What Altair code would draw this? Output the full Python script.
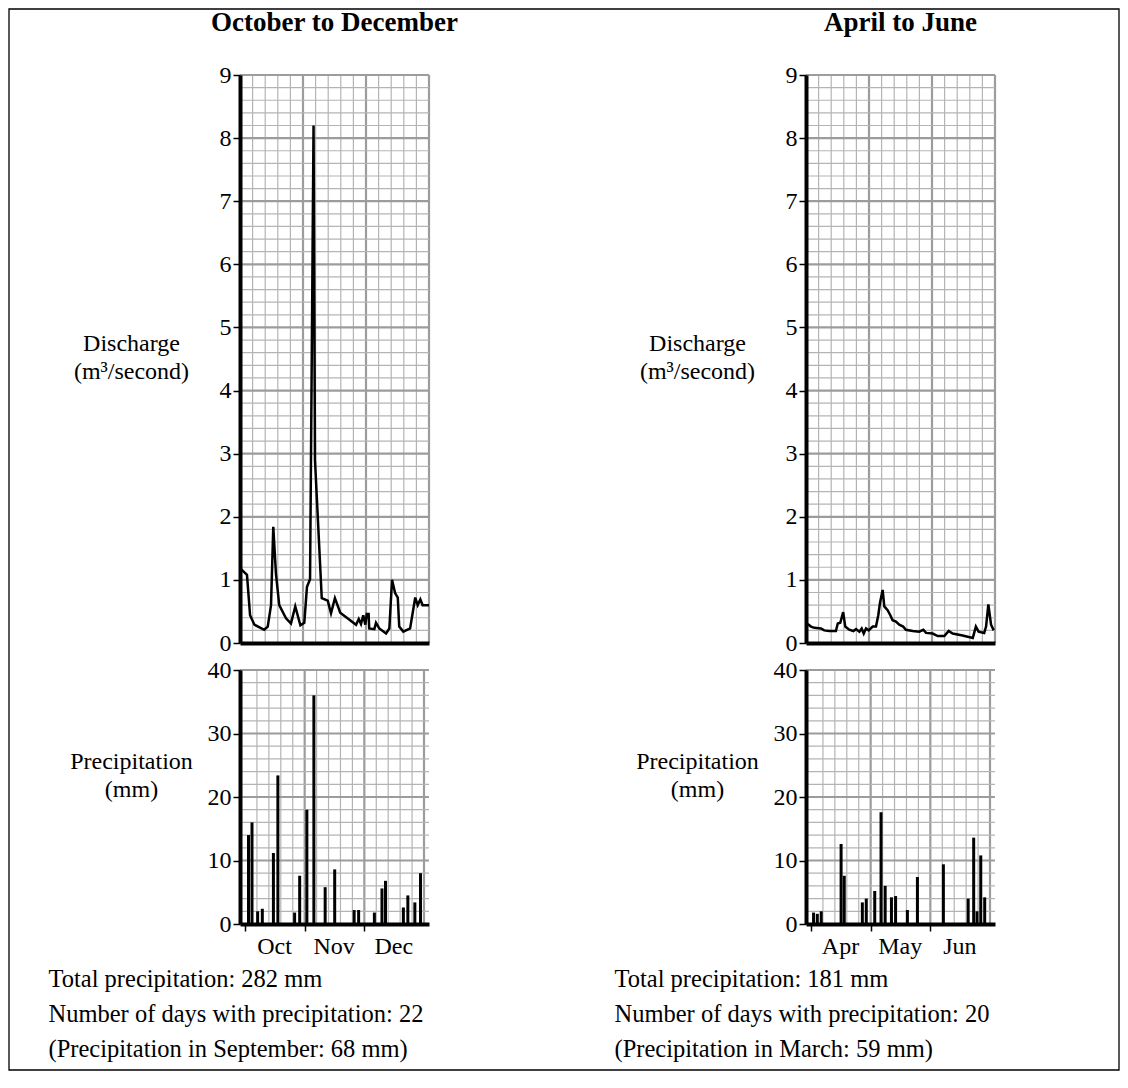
import altair as alt
import pandas as pd

FONT = "Liberation Serif"
MINOR = "#b4b4b4"
MAJOR = "#9c9c9c"

# ---------------- data ----------------
# October-December: day offset within the 92-day period, discharge (m3/s)
oct_q_day = [0.5, 3.4, 4.9, 7.0, 11.8, 13.5, 15.1, 16.2, 17.5, 19.1, 22.4, 24.8,
             26.9, 29.4, 31.3, 32.6, 34.1, 35.8, 36.5, 39.8, 42.7, 44.3, 46.2, 48.8,
             56.5, 57.8, 58.9, 60.0, 61.0, 61.7, 62.6, 62.9, 65.4, 66.2, 67.8, 71.1,
             72.7, 74.0, 75.5, 76.8, 77.5, 79.5, 82.8, 85.3, 86.5, 87.8, 88.9, 92.0]
oct_q_val = [1.17, 1.08, 0.44, 0.29, 0.21, 0.26, 0.60, 1.84, 1.10, 0.60, 0.39, 0.31,
             0.58, 0.28, 0.32, 0.89, 1.01, 8.20, 2.90, 0.71, 0.67, 0.47, 0.71, 0.48,
             0.29, 0.38, 0.30, 0.44, 0.29, 0.46, 0.46, 0.23, 0.22, 0.32, 0.23, 0.15,
             0.23, 1.00, 0.79, 0.72, 0.26, 0.18, 0.23, 0.72, 0.60, 0.69, 0.60, 0.60]
# October-December precipitation (mm)
oct_p_day = [1.8, 3.6, 6.5, 8.9, 14.6, 16.9, 25.5, 28.1, 31.8, 35.4, 41.2, 46.1,
             56.1, 58.4, 66.5, 70.4, 72.2, 81.4, 83.7, 87.3, 90.2]
oct_p_val = [14, 16, 2, 2.4, 11.2, 23.4, 1.8, 7.6, 18, 36, 5.8, 8.6,
             2.2, 2.2, 1.8, 5.6, 6.8, 2.6, 4.5, 3.4, 8]

# April-June: day offset within the 91-day period, discharge (m3/s)
apr_q_day = [0.8, 2.4, 4.0, 7.2, 8.8, 11.2, 14.4, 15.3, 16.5, 17.9, 18.9, 20.8,
             22.8, 24.1, 25.7, 26.8, 27.8, 28.9, 30.2, 32.1, 33.7, 34.8, 35.6, 36.9,
             37.7, 39.3, 40.6, 41.7, 43.3, 44.9, 46.8, 48.1, 51.4, 54.5, 56.5, 57.8,
             61.0, 63.4, 66.6, 68.7, 70.6, 75.4, 80.3, 81.8, 83.1, 85.8, 86.7, 87.8,
             89.1, 90.4]
apr_q_val = [0.30, 0.26, 0.24, 0.23, 0.20, 0.19, 0.19, 0.31, 0.32, 0.49, 0.26, 0.21,
             0.19, 0.22, 0.18, 0.23, 0.15, 0.23, 0.20, 0.26, 0.26, 0.44, 0.63, 0.84,
             0.58, 0.52, 0.44, 0.36, 0.34, 0.29, 0.26, 0.21, 0.19, 0.18, 0.21, 0.16,
             0.15, 0.11, 0.11, 0.19, 0.15, 0.12, 0.08, 0.26, 0.18, 0.16, 0.26, 0.61,
             0.29, 0.20]
# April-June precipitation (mm)
apr_p_day = [1.3, 3.2, 5.2, 15.3, 16.9, 26.1, 28.1, 32.4, 35.6, 37.7, 40.9, 43.0,
             49.0, 54.1, 67.3, 79.9, 82.7, 84.4, 86.3, 88.3]
apr_p_val = [1.8, 1.6, 2.0, 12.6, 7.6, 3.4, 4.0, 5.2, 17.6, 6.0, 4.2, 4.4,
             2.2, 7.4, 9.4, 4.0, 13.6, 2.0, 10.8, 4.2]

oct_months = ["Oct", "Nov", "Dec"]
apr_months = ["Apr", "May", "Jun"]
q_ticks = [0, 1, 2, 3, 4, 5, 6, 7, 8, 9]
p_ticks = [0, 10, 20, 30, 40]

oct_title = "October to December"
apr_title = "April to June"
oct_notes = ["Total precipitation: 282 mm",
             "Number of days with precipitation: 22",
             "(Precipitation in September: 68 mm)"]
apr_notes = ["Total precipitation: 181 mm",
             "Number of days with precipitation: 20",
             "(Precipitation in March: 59 mm)"]

q_label = ["Discharge", "(m\u00b3/second)"]
p_label = ["Precipitation", "(mm)"]

PW = 189          # plot width
QH = 568          # discharge plot height
PH = 254          # precipitation plot height


def grid_layers(n_days, xenc, yenc, ymax, ystep):
    xs = [(k, n_days * k / 15) for k in range(1, 16)]
    vmin = [x for k, x in xs if k % 5]
    vmaj = [x for k, x in xs if k % 5 == 0]
    n = int(round(ymax / ystep))
    hmin = [i * ystep for i in range(1, n + 1) if i % 5]
    hmaj = [i * ystep for i in range(1, n + 1) if i % 5 == 0]
    layers = []
    for vals, col, w in ((vmin, MINOR, 1.2), (vmaj, MAJOR, 2.2)):
        layers.append(alt.Chart(pd.DataFrame({"g": vals})).mark_rule(color=col, strokeWidth=w)
                      .encode(x=xenc("g")))
    for vals, col, w in ((hmin, MINOR, 1.2), (hmaj, MAJOR, 2.2)):
        layers.append(alt.Chart(pd.DataFrame({"g": vals})).mark_rule(color=col, strokeWidth=w)
                      .encode(y=yenc("g")))
    return layers


def y_axis(values, title, title_y):
    return alt.Axis(values=values, title=title, titleAngle=0, titleAlign="center",
                    titleBaseline="middle", titleX=-109, titleY=title_y,
                    titleFont=FONT, titleFontSize=24, titleFontWeight="normal",
                    titleColor="black", titleLineHeight=28,
                    labelFont=FONT, labelFontSize=24, labelColor="black",
                    labelPadding=2, labelFlush=False, labelOverlap=False,
                    tickSize=7, tickWidth=1.5, tickColor="black",
                    domainColor="black", domainWidth=4, grid=False, zindex=1)


def discharge_panel(days, vals, n_days, title):
    xscale = alt.Scale(domain=[0, n_days], nice=False, zero=False)
    yscale = alt.Scale(domain=[0, 9], nice=False, zero=False)
    xaxis = alt.Axis(labels=False, ticks=False, title=None, grid=False,
                     domainColor="black", domainWidth=4, zindex=1)
    yaxis = y_axis(q_ticks, q_label, 268)

    def xenc(f):
        return alt.X(f + ":Q", scale=xscale, axis=xaxis)

    def yenc(f):
        return alt.Y(f + ":Q", scale=yscale, axis=yaxis)

    line = alt.Chart(pd.DataFrame({"day": days, "q": vals})).mark_line(
        color="black", strokeWidth=2.5).encode(x=xenc("day"), y=yenc("q"))
    return alt.layer(*grid_layers(n_days, xenc, yenc, 9, 0.2), line).properties(
        width=PW, height=QH,
        title=alt.TitleParams(title, font=FONT, fontSize=27, fontWeight="bold",
                              anchor="middle", color="black", offset=26))


def precip_panel(days, vals, n_days, months, notes):
    xscale = alt.Scale(domain=[0, n_days], nice=False, zero=False)
    yscale = alt.Scale(domain=[0, 40], nice=False, zero=False)
    month_expr = "[" + ",".join("'%s'" % m for m in months) + \
        "][round(datum.value * 3 / %s)]" % n_days
    xaxis = alt.Axis(values=[n_days * i / 3 for i in range(3)],
                     labelExpr=month_expr, labelOffset=29,
                     labelFont=FONT, labelFontSize=24, labelColor="black",
                     labelPadding=3, labelFlush=False, labelOverlap=False,
                     tickSize=7, tickWidth=1.5, tickColor="black",
                     domainColor="black", domainWidth=4, grid=False, zindex=1,
                     title=notes, titleAlign="left", titleAnchor="start",
                     titleX=-192, titleY=55, titleBaseline="middle",
                     titleLineHeight=35, titleFont=FONT, titleFontSize=24.5,
                     titleFontWeight="normal", titleColor="black")
    yaxis = y_axis(p_ticks, p_label, 91)

    def xenc(f):
        return alt.X(f + ":Q", scale=xscale, axis=xaxis)

    def yenc(f):
        return alt.Y(f + ":Q", scale=yscale, axis=yaxis)

    bars = alt.Chart(pd.DataFrame({"day": days, "p": vals})).mark_bar(
        color="black", size=3).encode(x=xenc("day"), y=yenc("p"), y2=alt.datum(0))
    return alt.layer(*grid_layers(n_days, xenc, yenc, 40, 2), bars).properties(
        width=PW, height=PH)


one = pd.DataFrame({"k": [0]})


def spacer(w):
    return alt.Chart(one).mark_point(opacity=0, size=1).encode(
        x=alt.value(60), y=alt.value(0)).properties(width=w, height=1)


frame = alt.Chart(one).mark_rect(fillOpacity=0, stroke="black", strokeWidth=1.3).encode(
    x=alt.value(0), x2=alt.value(1110), y=alt.value(-66), y2=alt.value(995)
).properties(width=231, height=1)

cells = [
    frame,
    discharge_panel(oct_q_day, oct_q_val, 92, oct_title),
    spacer(377),
    discharge_panel(apr_q_day, apr_q_val, 91, apr_title),
    spacer(231),
    precip_panel(oct_p_day, oct_p_val, 92, oct_months, oct_notes),
    spacer(377),
    precip_panel(apr_p_day, apr_p_val, 91, apr_months, apr_notes),
]

chart = alt.concat(*cells, columns=4, align="each", bounds="flush",
                   spacing={"row": 27, "column": 0}).properties(
    padding=0
).configure(font=FONT, background="white").configure_view(stroke=None)

chart.save("out.html", embed_options={"renderer": "svg", "actions": False})
